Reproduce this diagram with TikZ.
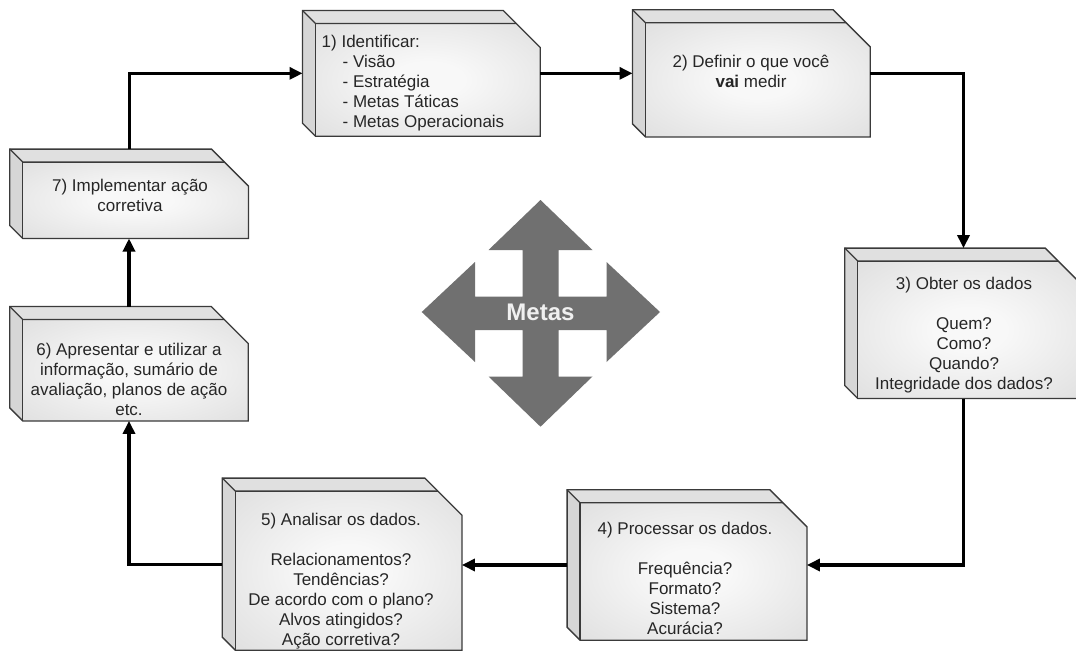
\documentclass[tikz,border=0pt]{standalone}
\usepackage{fontspec}
\setmainfont{Liberation Sans}
\usetikzlibrary{calc,arrows.meta}

\definecolor{edgec}{RGB}{58,58,58}
\definecolor{txtc}{RGB}{38,38,38}
\definecolor{metasc}{RGB}{112,112,112}
\definecolor{topc}{RGB}{224,224,224}
\definecolor{sidec}{RGB}{214,214,214}
\definecolor{facein}{RGB}{248,248,248}
\definecolor{faceout}{RGB}{212,212,212}
\definecolor{shadowc}{RGB}{190,190,190}

% soft glow for the front faces: light centre, grey rim
\pgfdeclareradialshading{faceglow}{\pgfpoint{0bp}{0bp}}{%
  color(0bp)=(facein); color(8bp)=(facein); color(50bp)=(faceout)}

% depth of the side faces and size of the cut corner
\newcommand{\dd}{13}
\newcommand{\ch}{37}

% draws a bevelled 3D block filling the extent of node #1
\newcommand{\solidblock}[1]{%
  \coordinate (#1-a) at (#1.north west);
  \coordinate (#1-b) at ($(#1.north east)+(-\ch,0)$);
  \coordinate (#1-c) at ($(#1.north east)+(0,\ch)$);
  \coordinate (#1-d) at (#1.south east);
  \coordinate (#1-e) at ($(#1.south west)+(\dd,0)$);
  \coordinate (#1-f) at ($(#1.south west)+(0,-\dd)$);
  \coordinate (#1-g) at ($(#1.north west)+(\dd,\dd)$);
  \coordinate (#1-h) at ($(#1-b)+(\dd,\dd)$);
  \fill[shadowc,shift={(2,2)}] (#1-a) -- (#1-b) -- (#1-c) -- (#1-d) -- (#1-e) -- (#1-f) -- cycle;
  \fill[topc] (#1-a) -- (#1-b) -- (#1-h) -- (#1-g) -- cycle;
  \fill[sidec] (#1-a) -- (#1-g) -- (#1-e) -- (#1-f) -- cycle;
  \shade[shading=faceglow] (#1-g) -- (#1-h) -- (#1-c) -- (#1-d) -- (#1-e) -- cycle;
  \draw[outline] (#1-a) -- (#1-b) -- (#1-c) -- (#1-d) -- (#1-e) -- (#1-f) -- cycle;
  \draw[outline] (#1-a) -- (#1-g) -- (#1-h);
  \draw[outline] (#1-g) -- (#1-e);
}

\tikzset{
  area/.style={rectangle, draw=none, inner sep=0pt},
  outline/.style={draw=edgec, line width=1.3pt, line join=miter},
  lbl/.style={text=txtc, inner sep=0pt, font=\fontsize{17}{20}\selectfont},
  conn/.style={draw=black, line width=3.2pt, -{Triangle[length=13pt,width=12pt]}},
}

\begin{document}
\begin{tikzpicture}[x=1pt, y=-1pt]
  \fill[white] (0,0) rectangle (1076,653);
  \useasboundingbox (0,0) rectangle (1076,653);

  % block extents
  \node[area, minimum width=237.3pt, minimum height=125.3pt] (b1) at (421.35,73.35) {};
  \node[area, minimum width=237.3pt, minimum height=126.7pt] (b2) at (751.35,73.35) {};
  \node[area, minimum width=237pt,   minimum height=150pt]   (b3) at (963.5,323.3) {};
  \node[area, minimum width=239.4pt, minimum height=150pt]   (b4) at (687,565) {};
  \node[area, minimum width=239.2pt, minimum height=171.7pt] (b5) at (342.1,564.15) {};
  \node[area, minimum width=238pt,   minimum height=114pt]   (b6) at (129,363.7) {};
  \node[area, minimum width=238.3pt, minimum height=89pt]    (b7) at (129.15,193.8) {};

  \solidblock{b1}
  \solidblock{b2}
  \solidblock{b3}
  \solidblock{b4}
  \solidblock{b5}
  \solidblock{b6}
  \solidblock{b7}

  % block texts
  \node[lbl, anchor=west, align=left] (t1) at (321.5,83.5)
    {1) Identificar:\\
     \hspace*{21pt}- Visão\\
     \hspace*{21pt}- Estratégia\\
     \hspace*{21pt}- Metas Táticas\\
     \hspace*{21pt}- Metas Operacionais};
  \node[lbl, align=center] (t2) at (751,71.7)
    {2) Definir o que você\\ \textbf{vai} medir};
  \node[lbl, align=center] (t3) at (964,335)
    {3) Obter os dados\\[20pt] Quem?\\ Como?\\ Quando?\\ Integridade dos dados?};
  \node[lbl, align=center] (t4) at (685,578)
    {4) Processar os dados.\\[20pt] Frequência?\\ Formato?\\ Sistema?\\ Acurácia?};
  \node[lbl, align=center] (t5) at (341,581)
    {5) Analisar os dados.\\[20pt] Relacionamentos?\\ Tendências?\\ De acordo com o plano?\\ Alvos atingidos?\\ Ação corretiva?};
  \node[lbl, align=center] (t6) at (129,379)
    {6) Apresentar e utilizar a\\ informação, sumário de\\ avaliação, planos de ação\\ etc.};
  \node[lbl, align=center] (t7) at (130,195)
    {7) Implementar ação\\ corretiva};

  % central four-way arrow
  \fill[metasc]
    (540.5,200) -- (592.5,250) -- (558.5,250) -- (558.5,296.5) -- (606.5,296.5) -- (606.5,262)
    -- (660,312) -- (606.5,362) -- (606.5,330) -- (558.5,330) -- (558.5,376.5) -- (592.5,376.5)
    -- (540.5,426.7) -- (488.5,376.5) -- (522.5,376.5) -- (522.5,330) -- (475,330) -- (475,362)
    -- (421.7,312) -- (475,262) -- (475,296.5) -- (522.5,296.5) -- (522.5,250) -- (488.5,250) -- cycle;
  \node[text=white!94!black, font=\fontsize{24}{28}\selectfont\bfseries] (metas) at (540.5,312) {Metas};

  % cycle connectors
  \draw[conn] (b7.north) |- (b1.west);
  \draw[conn] (b1.east) -- (b2.west);
  \draw[conn] (b2.east) -| (b3.north);
  \draw[conn] (b3.south) |- (b4.east);
  \draw[conn] (b4.west) -- (b4.west -| b5.east);
  \draw[conn] (b5.west) -| (b6.south);
  \draw[conn] (b6.north) -- (b6.north |- b7.south);
\end{tikzpicture}
\end{document}
